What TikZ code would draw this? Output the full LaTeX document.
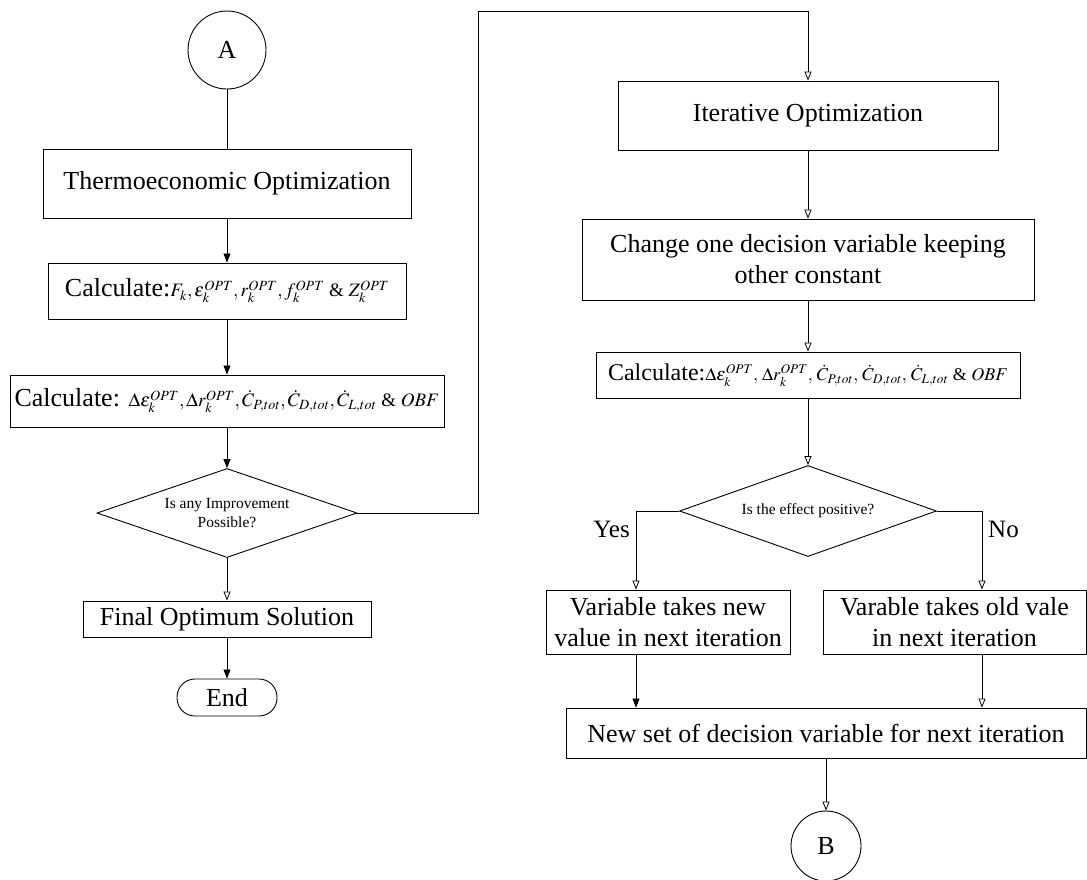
\documentclass[tikz,border=0pt]{standalone}
\usepackage{mathptmx}
\usepackage[no-math]{fontspec}
\setmainfont{Liberation Serif}
\usetikzlibrary{shapes.geometric,arrows.meta}

\newcommand{\bigtxt}{\fontsize{26}{31}\selectfont}
\newcommand{\midtxt}{\fontsize{24}{28}\selectfont}
\newcommand{\smalltxt}{\fontsize{15.5}{19}\selectfont}
\newcommand{\mathsz}{\fontsize{19}{22}\selectfont}
\newcommand{\mathszs}{\fontsize{18}{21}\selectfont}

\tikzset{
  box/.style={draw, rectangle, line width=0.9pt, inner sep=0pt, align=center, font=\bigtxt},
  decision/.style={draw, diamond, aspect=2.85, line width=0.9pt, inner sep=0pt, align=center, font=\smalltxt},
  terminal/.style={draw, rectangle, rounded corners=18pt, line width=0.9pt, inner sep=0pt, font=\bigtxt},
  conn/.style={draw, circle, line width=0.9pt, inner sep=0pt, font=\bigtxt},
  lbl/.style={font=\fontsize{25}{30}\selectfont, inner sep=0pt},
  arrowfill/.style={line width=0.8pt, -{Triangle[length=9pt,width=7pt]}},
  arrowopen/.style={line width=0.8pt, -{Triangle[open,length=9pt,width=7pt]}}
}

\begin{document}
\begin{tikzpicture}[x=1pt,y=-1pt]
    \useasboundingbox (0,0) rectangle (1087,879);
    % left column
    \node[conn, minimum size=78] (A) at (227,50) {A};
    \node[box, minimum width=368, minimum height=69] (thermo) at (227,183.5) {Thermoeconomic Optimization};
    \node[box, minimum width=358, minimum height=56] (calcA) at (227,291)
        {Calculate:{\mathsz$F_k,\varepsilon_k^{OPT},r_k^{OPT},f_k^{OPT}$ \& $Z_k^{OPT}$}};
    \node[box, minimum width=434, minimum height=52] (calcB) at (227,401)
        {Calculate: {\mathsz$\Delta\varepsilon_k^{OPT},\Delta r_k^{OPT},\dot C_{P,tot},\dot C_{D,tot},\dot C_{L,tot}$ \& $OBF$}};
    \node[decision, minimum width=260, minimum height=89] (improve) at (227,513) {Is any Improvement\\Possible?};
    \node[box, minimum width=288, minimum height=36] (final) at (227,619) {Final Optimum Solution};
    \node[terminal, minimum width=100, minimum height=37] (stop) at (227,697.5) {End};
    % right column
    \node[box, minimum width=380, minimum height=69] (iter) at (808,115.5) {Iterative Optimization};
    \node[box, minimum width=452, minimum height=81] (change) at (808,259.5) {Change one decision variable keeping\\other constant};
    \node[box, font=\midtxt, minimum width=424, minimum height=46] (calcC) at (808,375)
        {Calculate:{\mathszs$\Delta\varepsilon_k^{OPT},\,\Delta r_k^{OPT},\,\dot C_{P,tot},\,\dot C_{D,tot},\,\dot C_{L,tot}$ \& $OBF$}};
    \node[decision, minimum width=257, minimum height=91] (effect) at (808,511) {Is the effect positive?};
    \node[box, minimum width=244, minimum height=64] (newval) at (668,622) {Variable takes new\\value in next iteration};
    \node[box, minimum width=263, minimum height=64] (oldval) at (954.5,622) {Varable takes old vale\\in next iteration};
    \node[box, minimum width=520, minimum height=50] (newset) at (826,733) {New set of decision variable for next iteration};
    \node[conn, minimum size=70] (B) at (826,846) {B};
    \node[lbl, anchor=east] (yes) at (630,529) {Yes};
    \node[lbl, anchor=west] (no) at (988,529) {No};
    \coordinate (turn) at (478,11);

    % connectors
    \draw[line width=0.8pt] (A) -- (thermo);
    \draw[arrowfill] (thermo) -- (calcA);
    \draw[arrowfill] (calcA) -- (calcB);
    \draw[arrowfill] (calcB) -- (improve);
    \draw[arrowopen] (improve) -- (final);
    \draw[arrowfill] (final) -- (stop);
    \draw[arrowopen] (improve.east) -| (turn) -| (iter.north);
    \draw[arrowopen] (iter) -- (change);
    \draw[arrowopen] (change) -- (calcC);
    \draw[arrowopen] (calcC) -- (effect);
    \draw[arrowopen] (effect.west) -| ([xshift=-32pt]newval.north);
    \draw[arrowopen] (effect.east) -| ([xshift=27.5pt]oldval.north);
    \draw[arrowfill] ([xshift=-32pt]newval.south) -- ([xshift=-32pt]newval.south |- newset.north);
    \draw[arrowopen] ([xshift=27.5pt]oldval.south) -- ([xshift=27.5pt]oldval.south |- newset.north);
    \draw[arrowopen] (newset) -- (B);
\end{tikzpicture}
\end{document}
